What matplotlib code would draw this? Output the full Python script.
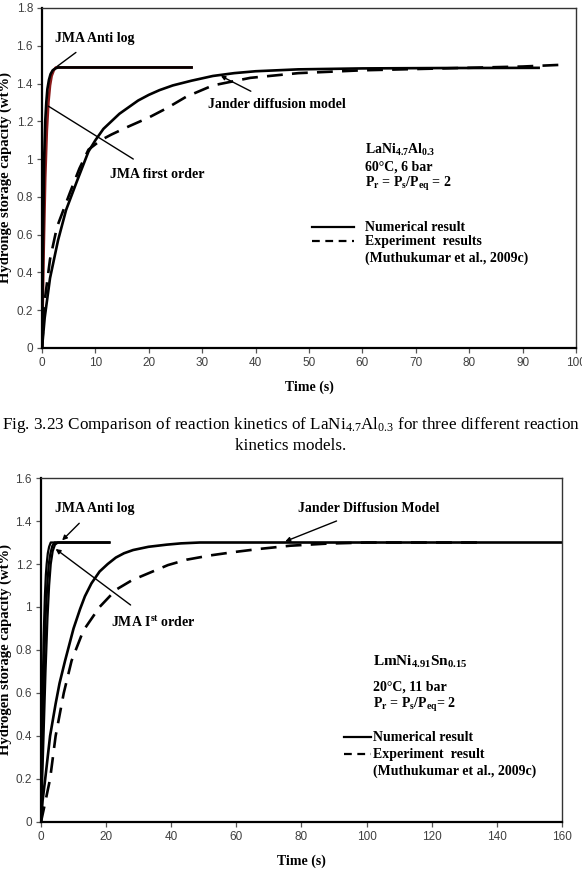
"""
plot.py - two reaction kinetics panels (LaNi4.7Al0.3 and LmNi4.91Sn0.15)
"""
import matplotlib
matplotlib.use("Agg")
import matplotlib.pyplot as plt

plt.rcParams["font.family"] = ["Liberation Serif", "DejaVu Serif"]
plt.rcParams["mathtext.default"] = "regular"

# ---------------------------------------------------------------------------
# Data - top panel (LaNi4.7Al0.3, 60 C, 6 bar)
# ---------------------------------------------------------------------------
top_jma1_t = [0, 0.2, 0.4, 0.6, 0.8, 1.0, 1.3, 1.6, 2.0, 2.5, 3.0, 28]
top_jma1_v = [0, 0.60, 1.00, 1.20, 1.30, 1.37, 1.42, 1.45, 1.47, 1.48, 1.485, 1.485]
top_jma2_t = [0, 0.3, 0.6, 0.9, 1.2, 1.5, 1.8, 2.2, 2.6, 28]
top_jma2_v = [0, 0.50, 0.90, 1.15, 1.30, 1.39, 1.44, 1.47, 1.485, 1.485]

top_jander_t = [0, 0.5, 1.5, 3, 4.5, 6.5, 8.7, 10, 11.5, 13, 14.5, 16, 18, 20, 22, 24.5, 28,
                32, 36, 40, 48, 60, 75, 93]
top_jander_v = [0, 0.16, 0.37, 0.57, 0.73, 0.88, 1.04, 1.10, 1.16, 1.20, 1.24, 1.27, 1.31,
                1.34, 1.365, 1.39, 1.415, 1.44, 1.455, 1.465, 1.475, 1.48, 1.482, 1.483]

top_exp_t = [0, 0.5, 1.5, 2.8, 5.2, 7, 8.7, 11, 13, 16, 20, 23.4, 27, 32, 39, 48, 60, 75, 90, 98]
top_exp_v = [0, 0.25, 0.47, 0.64, 0.82, 0.95, 1.05, 1.10, 1.13, 1.17, 1.22, 1.27, 1.33, 1.39,
             1.43, 1.455, 1.47, 1.48, 1.49, 1.50]

# ---------------------------------------------------------------------------
# Data - bottom panel (LmNi4.91Sn0.15, 20 C, 11 bar)
# ---------------------------------------------------------------------------
bot_jma1_t = [0, 0.4, 0.8, 1.2, 1.5, 1.75, 2.1, 2.5, 3.0, 21]
bot_jma1_v = [0, 0.50, 0.85, 1.05, 1.15, 1.20, 1.25, 1.28, 1.30, 1.30]
bot_jma2_t = [0, 0.5, 1.0, 1.5, 2.0, 2.4, 2.9, 3.5, 4.2, 21]
bot_jma2_v = [0, 0.40, 0.75, 0.98, 1.12, 1.20, 1.25, 1.285, 1.30, 1.30]
bot_jma3_t = [0, 0.7, 1.4, 2.0, 2.5, 3.0, 3.6, 4.3, 5.2, 21]
bot_jma3_v = [0, 0.35, 0.70, 0.95, 1.10, 1.20, 1.26, 1.29, 1.30, 1.30]

bot_jander_t = [0, 0.5, 1.3, 2.8, 4.5, 5.7, 7.4, 10, 12, 13.5, 15.5, 18, 20.5, 23, 25.5, 28.3,
                33, 38.6, 43, 48.8, 60, 80, 100, 160]
bot_jander_v = [0, 0.10, 0.20, 0.40, 0.55, 0.645, 0.75, 0.90, 0.99, 1.05, 1.11, 1.165, 1.20,
                1.23, 1.25, 1.265, 1.28, 1.29, 1.296, 1.30, 1.30, 1.30, 1.30, 1.30]

bot_exp_t = [0, 1, 2.8, 4.5, 7, 9.4, 13, 18, 23, 28, 33.5, 39, 44.7, 52, 59, 67, 76.5, 88, 100,
             120, 136]
bot_exp_v = [0, 0.07, 0.20, 0.40, 0.60, 0.75, 0.89, 1.00, 1.08, 1.125, 1.16, 1.195, 1.22,
             1.24, 1.255, 1.27, 1.285, 1.295, 1.30, 1.30, 1.30]

# ---------------------------------------------------------------------------
# Figure
# ---------------------------------------------------------------------------
fig = plt.figure(figsize=(5.82, 8.75), dpi=100)
ax1 = fig.add_axes([0.0722, 0.6023, 0.9175, 0.3886])
ax2 = fig.add_axes([0.0704, 0.0606, 0.8952, 0.3931])

TICK = "#404040"
DASH = (0, (6, 3.5))
LW = 1.9


def style_axes(ax, xmax, xstep, ymax):
    ax.set_xlim(0, xmax)
    ax.set_ylim(0, ymax)
    ax.set_xticks(range(0, xmax + 1, xstep))
    yt = [round(0.2 * i, 1) for i in range(int(round(ymax / 0.2)) + 1)]
    ax.set_yticks(yt)
    ax.set_yticklabels(["0" if v == 0 else ("1" if v == 1 else f"{v:g}") for v in yt])
    for lab in ax.get_xticklabels() + ax.get_yticklabels():
        lab.set_family(["Liberation Sans", "DejaVu Sans"])
        lab.set_fontsize(8.5)
        lab.set_color(TICK)
    ax.tick_params(direction="out", length=3.5, width=0.9, color="#555555", pad=3)
    ax.spines["left"].set_linewidth(1.6)
    ax.spines["bottom"].set_linewidth(1.6)
    ax.spines["top"].set_linewidth(1.0)
    ax.spines["right"].set_linewidth(1.0)
    for s in ("top", "right"):
        ax.spines[s].set_color("#333333")


bold = dict(fontsize=10, fontweight="bold")

# --- top panel ---
ax1.plot(top_jma2_t, top_jma2_v, color="#8b1a1a", lw=LW)
ax1.plot(top_jma1_t, top_jma1_v, color="black", lw=LW)
ax1.plot(top_jander_t, top_jander_v, color="black", lw=LW)
ax1.plot(top_exp_t, top_exp_v, color="black", lw=LW, linestyle=DASH)
style_axes(ax1, 100, 10, 1.8)
ax1.set_xlabel("Time (s)", fontsize=10, fontweight="bold", labelpad=8)
ax1.set_ylabel("Hydronge storage capacity (wt%)", fontsize=10.5, fontweight="bold")
ax1.yaxis.set_label_coords(-0.056, 0.5)

ax1.annotate("JMA Anti log", xy=(2.8, 1.49), xytext=(2.5, 1.64), ha="left", va="center",
             arrowprops=dict(arrowstyle="-", color="black", lw=1.0,
                             shrinkA=6, shrinkB=0), **bold)
ax1.annotate("JMA first order", xy=(1.2, 1.28), xytext=(12.8, 0.92), ha="left", va="center",
             arrowprops=dict(arrowstyle="-", color="black", lw=1.0,
                             shrinkA=8, shrinkB=0), **bold)
ax1.annotate("Jander diffusion model", xy=(33.5, 1.44), xytext=(31, 1.29), ha="left", va="center",
             arrowprops=dict(arrowstyle="-|>", color="black", lw=1.0, mutation_scale=6,
                             shrinkA=6, shrinkB=0), **bold)

ax1.text(60.5, 1.05, r"LaNi$_{4.7}$Al$_{0.3}$", ha="left", va="center", **bold)
ax1.text(60.5, 0.96, "60°C, 6 bar", ha="left", va="center", **bold)
ax1.text(60.5, 0.87, r"P$_r$ = P$_s$/P$_{eq}$ = 2", ha="left", va="center", **bold)
ax1.plot([50.5, 58.5], [0.64, 0.64], color="black", lw=1.6)
ax1.plot([50.5, 58.5], [0.565, 0.565], color="black", lw=1.6, linestyle=(0, (3.5, 2.5)))
ax1.text(60.5, 0.64, "Numerical result", ha="left", va="center", **bold)
ax1.text(60.5, 0.565, "Experiment  results", ha="left", va="center", **bold)
ax1.text(60.5, 0.475, "(Muthukumar et al., 2009c)", ha="left", va="center", **bold)

# --- caption ---
fig.text(0.5, 1 - 425 / 875,
         r"Fig. 3.23 Comparison of reaction kinetics of LaNi$_{4.7}$Al$_{0.3}$ for three different reaction",
         ha="center", va="center", fontsize=12.3)
fig.text(0.5, 1 - 446 / 875, "kinetics models.", ha="center", va="center", fontsize=12.3)

# --- bottom panel ---
ax2.plot(bot_jma1_t, bot_jma1_v, color="black", lw=1.6)
ax2.plot(bot_jma2_t, bot_jma2_v, color="black", lw=1.6)
ax2.plot(bot_jma3_t, bot_jma3_v, color="black", lw=1.6)
ax2.plot(bot_jander_t, bot_jander_v, color="black", lw=LW)
ax2.plot(bot_exp_t, bot_exp_v, color="black", lw=LW, linestyle=DASH)
style_axes(ax2, 160, 20, 1.6)
ax2.set_xlabel("Time (s)", fontsize=10, fontweight="bold", labelpad=8)
ax2.set_ylabel("Hydrogen storage capacity (wt%)", fontsize=10.5, fontweight="bold")
ax2.yaxis.set_label_coords(-0.056, 0.5)

ax2.annotate("JMA Anti log", xy=(6.5, 1.31), xytext=(4.2, 1.46), ha="left", va="center",
             arrowprops=dict(arrowstyle="-|>", color="black", lw=1.0, mutation_scale=7,
                             shrinkA=6, shrinkB=0), **bold)
ax2.annotate(r"JMA I$^{st}$ order", xy=(4.5, 1.27), xytext=(21.5, 0.93), ha="left", va="center",
             arrowprops=dict(arrowstyle="-|>", color="black", lw=1.0, mutation_scale=7,
                             shrinkA=8, shrinkB=0), **bold)
ax2.annotate("Jander Diffusion Model", xy=(75, 1.305), xytext=(79, 1.46), ha="left", va="center",
             arrowprops=dict(arrowstyle="-|>", color="black", lw=1.0, mutation_scale=7,
                             shrinkA=7, shrinkB=0), **bold)

ax2.text(102, 0.745, r"LmNi$_{4.91}$Sn$_{0.15}$", ha="left", va="center",
         fontsize=11, fontweight="bold")
ax2.text(102, 0.63, "20°C, 11 bar", ha="left", va="center", **bold)
ax2.text(102, 0.545, r"P$_r$ = P$_s$/P$_{eq}$= 2", ha="left", va="center", **bold)
ax2.plot([93, 101.5], [0.395, 0.395], color="black", lw=1.6)
ax2.plot([93, 101.5], [0.315, 0.315], color="black", lw=1.6, linestyle=(0, (3.5, 2.5)))
ax2.text(102, 0.395, "Numerical result", ha="left", va="center", **bold)
ax2.text(102, 0.315, "Experiment  result", ha="left", va="center", **bold)
ax2.text(102, 0.235, "(Muthukumar et al., 2009c)", ha="left", va="center", **bold)

fig.savefig("out.png", dpi=100, facecolor="white")
